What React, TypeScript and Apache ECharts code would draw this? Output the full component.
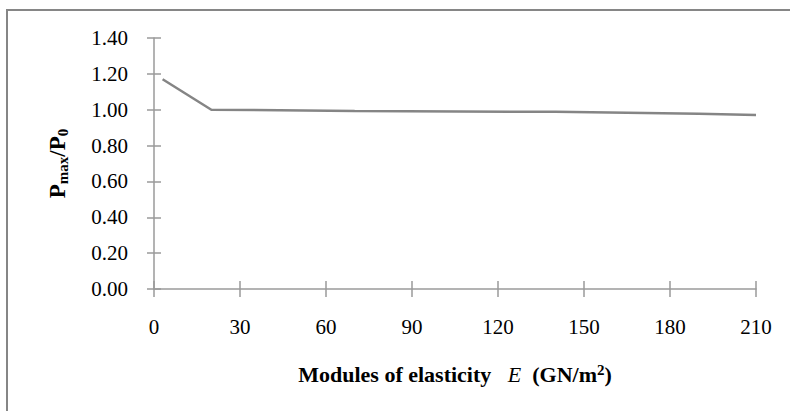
import React, { useEffect, useRef } from "react";
import * as echarts from "echarts";

const xValues = [3, 20, 70, 140, 190, 210];
const yValues = [1.17, 1.0, 0.993, 0.988, 0.978, 0.97];
const xTicks = [0, 30, 60, 90, 120, 150, 180, 210];
const yTicks = [0, 0.2, 0.4, 0.6, 0.8, 1.0, 1.2, 1.4];

const FONT = "'Liberation Serif', 'Times New Roman', serif";
const AXIS_COLOR = "#9a9a9a";

export default function App() {
  const ref = useRef<HTMLDivElement>(null);
  useEffect(() => {
    document.body.style.margin = "0";
    const chart = echarts.init(ref.current!, null, { renderer: "svg" });
    const data = xValues.map((x, i) => [x, yValues[i]]);
    const xMin = xTicks[0];
    const xMax = xTicks[xTicks.length - 1];
    const yMin = yTicks[0];
    const yMax = yTicks[yTicks.length - 1];
    const label = { fontFamily: FONT, fontSize: 21, color: "#000" };
    chart.setOption({
      animation: false,
      backgroundColor: "#fff",
      grid: { left: 154, right: 34, top: 38, bottom: 122, containLabel: false },
      graphic: [
        {
          type: "rect",
          shape: { x: 7, y: 10, width: 820, height: 440 },
          style: { fill: "none", stroke: "#868686", lineWidth: 2 },
          silent: true,
        },
      ],
      xAxis: [
        {
          type: "value",
          min: xMin,
          max: xMax,
          interval: 30,
          splitLine: { show: false },
          axisLine: { show: true, lineStyle: { color: AXIS_COLOR, width: 1.5 } },
          axisTick: { show: true, length: 8, lineStyle: { color: AXIS_COLOR, width: 1.5 } },
          axisLabel: { ...label, margin: 27 },
          name: "{b|Modules of elasticity   }{i|E}{b|  (GN/m}{sup|2}{b|)}",
          nameLocation: "middle",
          nameGap: 73,
          nameTextStyle: {
            rich: {
              b: { fontFamily: FONT, fontSize: 22, fontWeight: "bold", color: "#000", lineHeight: 25 },
              i: { fontFamily: FONT, fontSize: 22, fontStyle: "italic", color: "#000", lineHeight: 25 },
              sup: { fontFamily: FONT, fontSize: 15, fontWeight: "bold", color: "#000", verticalAlign: "top", lineHeight: 15 },
            },
          },
        },
        {
          type: "value",
          min: xMin,
          max: xMax,
          interval: 30,
          position: "bottom",
          splitLine: { show: false },
          axisLine: { show: false },
          axisTick: { show: true, inside: true, length: 8, lineStyle: { color: AXIS_COLOR, width: 1.5 } },
          axisLabel: { show: false },
        },
      ],
      yAxis: [
        {
          type: "value",
          min: yMin,
          max: yMax,
          interval: 0.2,
          splitLine: { show: false },
          axisLine: { show: true, lineStyle: { color: AXIS_COLOR, width: 1.5 } },
          axisTick: { show: true, length: 7, lineStyle: { color: AXIS_COLOR, width: 1.5 } },
          axisLabel: { ...label, margin: 26, formatter: (v: number) => v.toFixed(2) },
          name: "{b|P}{sub|max}{b|/P}{sub|0}",
          nameLocation: "middle",
          nameRotate: 90,
          nameGap: 84,
          nameTextStyle: {
            rich: {
              b: { fontFamily: FONT, fontSize: 23, fontWeight: "bold", color: "#000", lineHeight: 26 },
              sub: { fontFamily: FONT, fontSize: 15, fontWeight: "bold", color: "#000", verticalAlign: "bottom", lineHeight: 15 },
            },
          },
        },
        {
          type: "value",
          min: yMin,
          max: yMax,
          interval: 0.2,
          position: "left",
          splitLine: { show: false },
          axisLine: { show: false },
          axisTick: { show: true, inside: true, length: 7, lineStyle: { color: AXIS_COLOR, width: 1.5 } },
          axisLabel: { show: false },
        },
      ],
      series: [
        {
          type: "line",
          data,
          showSymbol: false,
          symbol: "none",
          lineStyle: { color: "#858585", width: 2.5 },
          xAxisIndex: 0,
          yAxisIndex: 0,
        },
      ],
    });
    return () => chart.dispose();
  }, []);
  return <div ref={ref} style={{ width: 790, height: 411, position: "absolute", left: 0, top: 0 }} />;
}
